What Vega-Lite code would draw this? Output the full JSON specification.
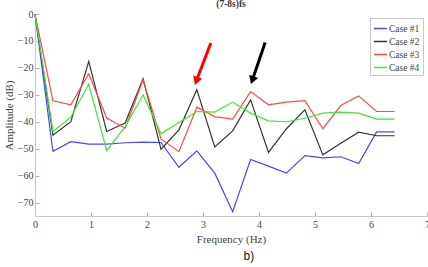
{
  "$schema": "https://vega.github.io/schema/vega-lite/v6.json",
  "width": 392,
  "height": 202,
  "autosize": {"type": "none"},
  "padding": {"left": 35, "top": 14, "right": 1, "bottom": 51},
  "background": "white",
  "title": {"text": "(7-8s)fs", "font": "Liberation Serif", "fontSize": 9.5, "fontWeight": "bold", "color": "#333333", "anchor": "middle", "offset": 1},
  "config": {
    "view": {"stroke": null},
    "axis": {"labelFont": "Liberation Serif", "titleFont": "Liberation Serif", "labelFontSize": 10, "titleFontSize": 11, "titleFontWeight": "normal", "labelColor": "#444444", "titleColor": "#444444", "domainColor": "#c8c8c8", "tickColor": "#b0b0b0", "grid": false, "tickSize": -4, "domainWidth": 1, "labelOverlap": false, "labelFlush": false, "labelSeparation": 0},
    "axisY": {"labelOverlap": false}
  },
  "encoding": {
    "x": {"field": "f", "type": "quantitative", "scale": {"domain": [0, 7], "nice": false}, "axis": {"title": "Frequency (Hz)", "values": [0,1,2,3,4,5,6,7], "format": "d", "labelPadding": 7, "titlePadding": 4, "labelOverlap": false}},
    "y": {"field": "db", "type": "quantitative", "scale": {"domain": [-75, 0], "nice": false, "zero": false}, "axis": {"title": "Amplitude (dB)", "values": [-70,-60,-50,-40,-30,-20,-10,0], "format": "d", "labelOverlap": false, "labelPadding": 6, "titlePadding": 3}}
  },
  "layer": [
    {
      "data": {"values": [
        {"f":0,"db":0,"series":"Case #1"},{"f":0.32,"db":-51,"series":"Case #1"},{"f":0.64,"db":-47.4,"series":"Case #1"},{"f":0.96,"db":-48.3,"series":"Case #1"},{"f":1.28,"db":-48.3,"series":"Case #1"},{"f":1.61,"db":-47.8,"series":"Case #1"},{"f":1.93,"db":-47.6,"series":"Case #1"},{"f":2.25,"db":-47.7,"series":"Case #1"},{"f":2.57,"db":-56.9,"series":"Case #1"},{"f":2.89,"db":-50.8,"series":"Case #1"},{"f":3.21,"db":-59.1,"series":"Case #1"},{"f":3.53,"db":-73.4,"series":"Case #1"},{"f":3.85,"db":-54,"series":"Case #1"},{"f":4.17,"db":-56.5,"series":"Case #1"},{"f":4.49,"db":-59.1,"series":"Case #1"},{"f":4.82,"db":-52.6,"series":"Case #1"},{"f":5.14,"db":-53.4,"series":"Case #1"},{"f":5.46,"db":-53,"series":"Case #1"},{"f":5.78,"db":-55.5,"series":"Case #1"},{"f":6.1,"db":-43.8,"series":"Case #1"},{"f":6.42,"db":-43.8,"series":"Case #1"},
        {"f":0,"db":0,"series":"Case #2"},{"f":0.32,"db":-45,"series":"Case #2"},{"f":0.64,"db":-40,"series":"Case #2"},{"f":0.96,"db":-17.6,"series":"Case #2"},{"f":1.28,"db":-43.6,"series":"Case #2"},{"f":1.61,"db":-40.5,"series":"Case #2"},{"f":1.93,"db":-24,"series":"Case #2"},{"f":2.25,"db":-50.2,"series":"Case #2"},{"f":2.57,"db":-43,"series":"Case #2"},{"f":2.89,"db":-28.1,"series":"Case #2"},{"f":3.21,"db":-49.4,"series":"Case #2"},{"f":3.53,"db":-43.4,"series":"Case #2"},{"f":3.85,"db":-31.9,"series":"Case #2"},{"f":4.17,"db":-51.4,"series":"Case #2"},{"f":4.49,"db":-42.6,"series":"Case #2"},{"f":4.82,"db":-35.6,"series":"Case #2"},{"f":5.14,"db":-52.3,"series":"Case #2"},{"f":5.46,"db":-48,"series":"Case #2"},{"f":5.78,"db":-43.9,"series":"Case #2"},{"f":6.1,"db":-45.2,"series":"Case #2"},{"f":6.42,"db":-45.2,"series":"Case #2"},
        {"f":0,"db":0,"series":"Case #3"},{"f":0.32,"db":-32.2,"series":"Case #3"},{"f":0.64,"db":-33.7,"series":"Case #3"},{"f":0.96,"db":-22.2,"series":"Case #3"},{"f":1.28,"db":-38.6,"series":"Case #3"},{"f":1.61,"db":-42.4,"series":"Case #3"},{"f":1.93,"db":-24.5,"series":"Case #3"},{"f":2.25,"db":-46.4,"series":"Case #3"},{"f":2.57,"db":-51.1,"series":"Case #3"},{"f":2.89,"db":-34.6,"series":"Case #3"},{"f":3.21,"db":-38.1,"series":"Case #3"},{"f":3.53,"db":-39,"series":"Case #3"},{"f":3.85,"db":-28.8,"series":"Case #3"},{"f":4.17,"db":-33.7,"series":"Case #3"},{"f":4.49,"db":-32.7,"series":"Case #3"},{"f":4.82,"db":-32.2,"series":"Case #3"},{"f":5.14,"db":-42.6,"series":"Case #3"},{"f":5.46,"db":-34,"series":"Case #3"},{"f":5.78,"db":-30.4,"series":"Case #3"},{"f":6.1,"db":-36.2,"series":"Case #3"},{"f":6.42,"db":-36.2,"series":"Case #3"},
        {"f":0,"db":0,"series":"Case #4"},{"f":0.32,"db":-43.6,"series":"Case #4"},{"f":0.64,"db":-38.3,"series":"Case #4"},{"f":0.96,"db":-26,"series":"Case #4"},{"f":1.28,"db":-50.7,"series":"Case #4"},{"f":1.61,"db":-41.8,"series":"Case #4"},{"f":1.93,"db":-30,"series":"Case #4"},{"f":2.25,"db":-44.5,"series":"Case #4"},{"f":2.57,"db":-40.3,"series":"Case #4"},{"f":2.89,"db":-36.2,"series":"Case #4"},{"f":3.21,"db":-36.4,"series":"Case #4"},{"f":3.53,"db":-32.7,"series":"Case #4"},{"f":3.85,"db":-36.8,"series":"Case #4"},{"f":4.17,"db":-39.7,"series":"Case #4"},{"f":4.49,"db":-40,"series":"Case #4"},{"f":4.82,"db":-38.7,"series":"Case #4"},{"f":5.14,"db":-36.8,"series":"Case #4"},{"f":5.46,"db":-36.4,"series":"Case #4"},{"f":5.78,"db":-36.8,"series":"Case #4"},{"f":6.1,"db":-39,"series":"Case #4"},{"f":6.42,"db":-39,"series":"Case #4"}
      ]},
      "mark": {"type": "line", "strokeWidth": 1.2},
      "encoding": {
        "color": {"field": "series", "type": "nominal", "scale": {"domain": ["Case #1","Case #2","Case #3","Case #4"], "range": ["#4646ff","#333333","#ff4848","#3ae63a"]}, "legend": {"title": null, "orient": "top-right", "offset": 4, "symbolType": "stroke", "symbolSize": 169, "symbolStrokeWidth": 1.5, "labelFont": "Liberation Serif", "labelFontSize": 9.5, "labelColor": "#444444", "labelOffset": 1, "rowPadding": 1, "padding": 3, "strokeColor": "#c8c8c8", "fillColor": "white"}},
        "order": {"field": "series"}
      }
    },
    {
      "data": {"values": [
        {"arrow": "red", "f": 3.14, "db": -10.8, "f2": 2.88, "db2": -24.9},
        {"arrow": "black", "f": 4.11, "db": -10.6, "f2": 3.88, "db2": -24.6}
      ]},
      "mark": {"type": "rule", "strokeWidth": 3},
      "encoding": {
        "x2": {"field": "f2"},
        "y2": {"field": "db2"},
        "color": {"field": "arrow", "type": "nominal", "scale": {"domain": ["red","black"], "range": ["#ff0000","#000000"]}, "legend": null}
      }
    },
    {
      "data": {"values": [
        {"arrow": "red", "f": 2.88, "db": -24.9},
        {"arrow": "black", "f": 3.88, "db": -24.6}
      ]},
      "mark": {"type": "point", "shape": "triangle-down", "filled": true, "size": 90, "angle": 20, "opacity": 1},
      "encoding": {
        "color": {"field": "arrow", "type": "nominal", "scale": {"domain": ["red","black"], "range": ["#ff0000","#000000"]}, "legend": null}
      }
    },
    {
      "data": {"values": [{"label": "b)", "f": 3.82, "db": -89.9}]},
      "mark": {"type": "text", "font": "Liberation Sans", "fontSize": 12, "color": "#111111", "baseline": "middle", "align": "center"},
      "encoding": {
        "text": {"field": "label"}
      }
    }
  ],
  "resolve": {"scale": {"color": "independent"}}
}
